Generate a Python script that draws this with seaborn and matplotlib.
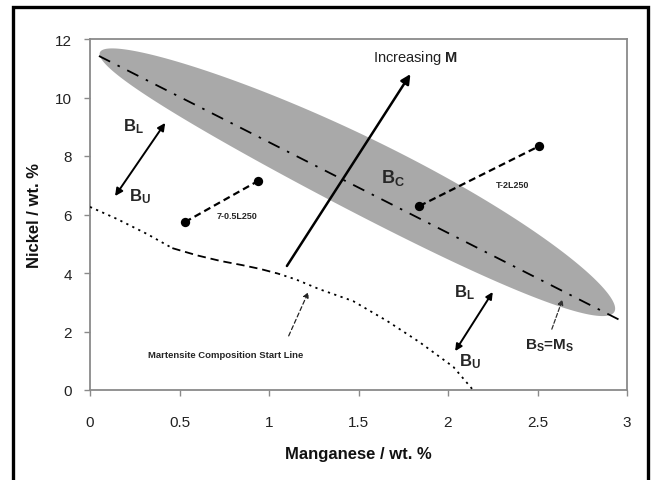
import numpy as np
import pandas as pd
import seaborn as sns
import matplotlib.pyplot as plt
from matplotlib.patches import Rectangle, FancyArrowPatch

# ---------------- data ----------------
xticks = [0, 0.5, 1, 1.5, 2, 2.5, 3]
xtick_labels = ["0", "0.5", "1", "1.5", "2", "2.5", "3"]
yticks = [0, 2, 4, 6, 8, 10, 12]
ytick_labels = ["0", "2", "4", "6", "8", "10", "12"]

# Bs = Ms line (dash-dot) and the grey band around it
bc_line_x = [0.05, 2.97]
bc_line_y = [11.42, 2.36]
band_tip_x = [0.056, 2.93]
band_tip_y = [11.55, 2.68]
band_axis_ratio = 0.128   # half-width / half-length
band_bend = 0.028         # upward bow of the band, relative to half-length
band_taper = 0.10         # band slightly wider towards high Mn

# samples (pairs joined by dashed lines)
s1_x = [0.53, 0.94]
s1_y = [5.74, 7.15]
s2_x = [1.84, 2.51]
s2_y = [6.29, 8.34]

# martensite composition start line
mc_x = [0, 0.15, 0.32, 0.46, 0.6, 0.73, 0.85, 0.95, 1.05, 1.15, 1.28, 1.47, 1.66, 1.84, 2.03, 2.14]
mc_y = [6.26, 5.85, 5.33, 4.85, 4.6, 4.41, 4.27, 4.14, 3.98, 3.78, 3.45, 3.04, 2.36, 1.64, 0.79, 0.0]
mc_dash_start, mc_dash_end = 3, 8   # index range drawn dashed

# arrows (tail x, tail y, head x, head y)
arrow_M = [1.10, 4.24, 1.79, 10.80]
arrow_BLBU_left = [0.14, 6.63, 0.42, 9.13]
arrow_BLBU_right = [2.04, 1.33, 2.25, 3.35]
arrow_BsMs = [2.58, 2.08, 2.64, 3.10]
arrow_mart = [1.11, 1.85, 1.22, 3.35]

# ---------------- style ----------------
sns.set_theme(style="white")
plt.rcParams["font.family"] = ["Liberation Sans", "DejaVu Sans"]
plt.rcParams["mathtext.fontset"] = "custom"
plt.rcParams["mathtext.rm"] = "Liberation Sans"
plt.rcParams["mathtext.bf"] = "Liberation Sans:bold"
plt.rcParams["mathtext.it"] = "Liberation Sans:italic"
plt.rcParams["lines.scale_dashes"] = False

W, H = 652, 481
fig = plt.figure(figsize=(W / 100, H / 100), dpi=100)
ax = fig.add_axes([90 / W, 1 - 391 / H, (627 - 90) / W, (391 - 40) / H])
ax.set_xlim(0, 3)
ax.set_ylim(0, 12)

gray = "#8a8a8a"
for sp in ax.spines.values():
    sp.set_color(gray)
    sp.set_linewidth(1.3)
ax.set_xticks(xticks)
ax.set_xticklabels(xtick_labels)
ax.set_yticks(yticks)
ax.set_yticklabels(ytick_labels)
ax.tick_params(axis="both", direction="out", length=4, width=1, color=gray,
               labelsize=11, labelcolor="#222222", bottom=True, left=True)
ax.tick_params(axis="x", pad=14)
ax.tick_params(axis="y", pad=9)
ax.set_xlabel("Manganese / wt. %", fontsize=12, fontweight="bold", labelpad=12, color="#111111")
ax.set_ylabel("Nickel / wt. %", fontsize=12, fontweight="bold", labelpad=9, color="#111111")

# ---------------- grey band (built in display space) ----------------
p1 = ax.transData.transform((band_tip_x[0], band_tip_y[0]))
p2 = ax.transData.transform((band_tip_x[1], band_tip_y[1]))
c = (p1 + p2) / 2
d = p2 - p1
a = np.hypot(*d) / 2
ang = np.arctan2(d[1], d[0])
t = np.linspace(0, 2 * np.pi, 400)
u = a * np.cos(t)
r = u / a
v = a * band_axis_ratio * (1 + band_taper * r) * np.sin(t) + a * band_bend * (1 - r ** 2)
ex = c[0] + u * np.cos(ang) - v * np.sin(ang)
ey = c[1] + u * np.sin(ang) + v * np.cos(ang)
pts = ax.transData.inverted().transform(np.column_stack([ex, ey]))
ax.fill(pts[:, 0], pts[:, 1], color="#a9a9a9", lw=0, zorder=1)

# dash-dot Bs=Ms line
sns.lineplot(x=bc_line_x, y=bc_line_y, ax=ax, color="black", lw=1.3,
             linestyle=(0, (9, 6, 1.8, 6)), zorder=3)

# martensite start line
mc = pd.DataFrame({"x": mc_x, "y": mc_y})
dot_style = (0, (1.6, 3.2))
sns.lineplot(data=mc.iloc[:mc_dash_start + 1], x="x", y="y", ax=ax, sort=False,
             color="black", lw=1.3, linestyle=dot_style, zorder=3)
sns.lineplot(data=mc.iloc[mc_dash_start:mc_dash_end + 1], x="x", y="y", ax=ax, sort=False,
             color="black", lw=1.3, linestyle=(0, (6, 3.5)), zorder=3)
sns.lineplot(data=mc.iloc[mc_dash_end:], x="x", y="y", ax=ax, sort=False,
             color="black", lw=1.3, linestyle=dot_style, zorder=3)

# samples
for sx, sy in [(s1_x, s1_y), (s2_x, s2_y)]:
    sns.lineplot(x=sx, y=sy, ax=ax, color="black", lw=1.6,
                 linestyle=(0, (5, 3)), zorder=4)
    sns.scatterplot(x=sx, y=sy, ax=ax, color="black", s=45, edgecolor="black",
                    linewidth=0, zorder=5)


def arrow(spec, style, lw, ms, ls="-", color="black"):
    ax.add_patch(FancyArrowPatch((spec[0], spec[1]), (spec[2], spec[3]),
                                 arrowstyle=style, mutation_scale=ms, lw=lw,
                                 linestyle=ls, color=color, zorder=6,
                                 shrinkA=0, shrinkB=0))


arrow(arrow_M, "-|>", 1.8, 14)
arrow(arrow_BLBU_left, "<|-|>", 1.4, 11)
arrow(arrow_BLBU_right, "<|-|>", 1.4, 10)
arrow(arrow_BsMs, "-|>", 0.9, 8, ls=(0, (3, 1.5)), color="#333333")
arrow(arrow_mart, "-|>", 0.9, 8, ls=(0, (3, 2)), color="#222222")

# ---------------- text ----------------
ax.text(1.82, 11.38, r"Increasing $\mathbf{M}$", fontsize=10.5, ha="center", va="center",
        color="#222222")
ax.text(0.245, 9.03, r"$\mathbf{B_L}$", fontsize=12, ha="center", va="center")
ax.text(0.28, 6.63, r"$\mathbf{B_U}$", fontsize=12, ha="center", va="center")
ax.text(2.09, 3.35, r"$\mathbf{B_L}$", fontsize=12, ha="center", va="center")
ax.text(2.12, 0.99, r"$\mathbf{B_U}$", fontsize=12, ha="center", va="center")
ax.text(1.69, 7.28, r"$\mathbf{B_C}$", fontsize=13, ha="center", va="center")
ax.text(2.57, 1.54, r"$\mathbf{B_S}$=$\mathbf{M_S}$", fontsize=11, fontweight="bold",
        ha="center", va="center")
ax.text(0.71, 5.98, "7-0.5L250", fontsize=6.5, fontweight="bold", ha="left", va="center")
ax.text(2.27, 7.04, "T-2L250", fontsize=6.5, fontweight="bold", ha="left", va="center")
ax.text(0.76, 1.23, "Martensite Composition Start Line", fontsize=6.8, fontweight="bold",
        ha="center", va="center")

# outer frame (bottom edge falls outside the image)
fig.patches.append(Rectangle((13.5 / W, -0.05), (648 - 13.5) / W, 1.05 - 7.5 / H,
                             transform=fig.transFigure, fill=False, lw=2.4,
                             edgecolor="black", clip_on=False))

fig.savefig("out.png", dpi=100, facecolor="white")
